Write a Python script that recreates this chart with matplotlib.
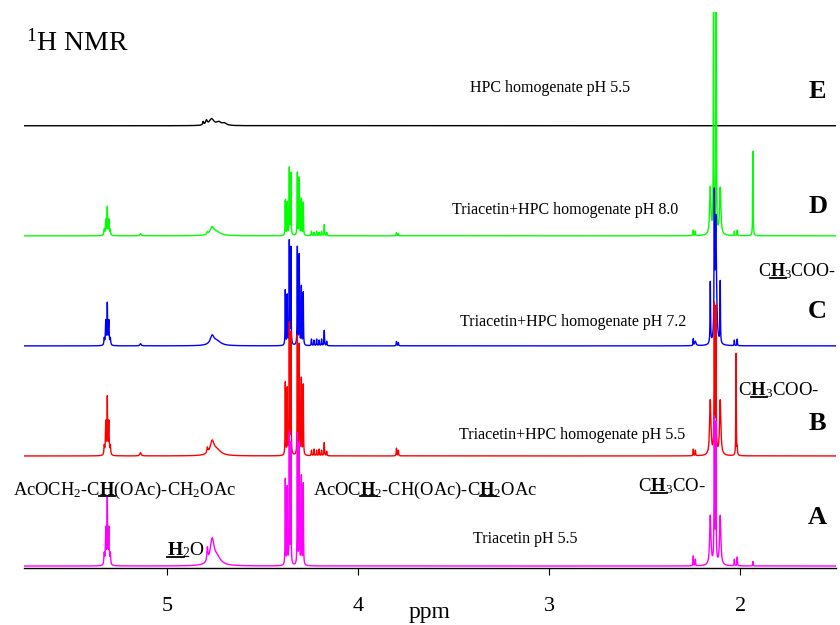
import numpy as np
import matplotlib
matplotlib.use('Agg')
import matplotlib.pyplot as plt
from matplotlib.lines import Line2D

plt.rcParams['font.family'] = ['Liberation Serif', 'DejaVu Serif']
plt.rcParams['mathtext.fontset'] = 'custom'
plt.rcParams['mathtext.rm'] = 'Liberation Serif'
plt.rcParams['mathtext.it'] = 'Liberation Serif:italic'
plt.rcParams['mathtext.bf'] = 'Liberation Serif:bold'

# peak lists: position (ppm), height (1 = spacing between traces), half width (ppm)
# A: Triacetin pH 5.5
a_pos = [5.330, 5.322, 5.314, 5.306, 5.298, 4.790, 4.765, 4.740,
         4.382, 4.372, 4.361, 4.353, 4.319, 4.309, 4.298, 4.288,
         2.246, 2.235, 2.157, 2.136, 2.128, 2.105, 2.031, 2.016, 1.934]
a_hgt = [0.10, 0.33, 0.60, 0.33, 0.10, 0.12, 0.22, 0.07,
         0.78, 0.70, 1.19, 1.10, 1.19, 1.10, 0.80, 0.74,
         0.09, 0.06, 0.45, 1.30, 1.25, 0.45, 0.06, 0.08, 0.04]
a_wid = [0.002, 0.002, 0.0015, 0.002, 0.002, 0.003, 0.012, 0.025,
         0.0012, 0.0012, 0.0012, 0.0012, 0.0012, 0.0012, 0.0012, 0.0012,
         0.0012, 0.0012, 0.004, 0.0015, 0.0015, 0.004, 0.0012, 0.0012, 0.0012]

# B: Triacetin+HPC homogenate pH 5.5
b_pos = [5.330, 5.322, 5.314, 5.306, 5.298, 5.140, 4.790, 4.765, 4.740,
         4.382, 4.372, 4.361, 4.353, 4.319, 4.309, 4.298, 4.288,
         4.245, 4.232, 4.218, 4.205, 4.192, 4.178, 4.165, 3.800, 3.790,
         2.246, 2.235, 2.157, 2.136, 2.128, 2.105, 2.022, 2.016]
b_hgt = [0.08, 0.30, 0.51, 0.30, 0.08, 0.03, 0.05, 0.12, 0.05,
         0.66, 0.60, 1.19, 1.10, 1.08, 1.00, 0.69, 0.64,
         0.05, 0.06, 0.05, 0.06, 0.05, 0.12, 0.04, 0.07, 0.05,
         0.06, 0.05, 0.50, 1.33, 1.30, 0.50, 0.93, 0.06]
b_wid = [0.002, 0.002, 0.0015, 0.002, 0.002, 0.004, 0.003, 0.012, 0.025,
         0.0012, 0.0012, 0.0012, 0.0012, 0.0012, 0.0012, 0.0012, 0.0012,
         0.0015, 0.0015, 0.0015, 0.0015, 0.0015, 0.0015, 0.0015, 0.0015, 0.0015,
         0.0012, 0.0012, 0.004, 0.0015, 0.0015, 0.004, 0.0012, 0.0012]

# C: Triacetin+HPC homogenate pH 7.2
c_pos = [5.330, 5.322, 5.314, 5.306, 5.298, 5.140, 4.765, 4.740,
         4.382, 4.372, 4.361, 4.353, 4.319, 4.309, 4.298, 4.288,
         4.245, 4.232, 4.218, 4.205, 4.192, 4.178, 4.165, 3.800, 3.790,
         2.246, 2.235, 2.157, 2.136, 2.128, 2.105, 2.031, 2.016, 1.934]
c_hgt = [0.06, 0.22, 0.37, 0.22, 0.06, 0.02, 0.08, 0.04,
         0.50, 0.45, 0.94, 0.88, 0.89, 0.82, 0.53, 0.48,
         0.06, 0.05, 0.06, 0.05, 0.06, 0.14, 0.04, 0.04, 0.03,
         0.06, 0.04, 0.56, 1.20, 1.15, 0.56, 0.05, 0.06, 1.00]
c_wid = b_wid[:6] + [0.012, 0.025] + b_wid[9:26] + [0.0012, 0.004, 0.0015, 0.0015, 0.004, 0.0012, 0.0012, 0.0012]

# D: Triacetin+HPC homogenate pH 8.0
d_pos = [5.330, 5.322, 5.314, 5.306, 5.298, 5.140, 4.790, 4.765, 4.740,
         4.382, 4.372, 4.361, 4.353, 4.319, 4.309, 4.298, 4.288,
         4.245, 4.232, 4.218, 4.205, 4.192, 4.178, 4.165, 3.800, 3.790,
         2.246, 2.235, 2.157, 2.140, 2.126, 2.105, 2.031, 2.016, 1.934]
d_hgt = [0.05, 0.14, 0.25, 0.14, 0.05, 0.02, 0.02, 0.07, 0.03,
         0.32, 0.30, 0.61, 0.56, 0.57, 0.52, 0.33, 0.30,
         0.04, 0.03, 0.04, 0.03, 0.04, 0.10, 0.03, 0.03, 0.02,
         0.05, 0.04, 0.43, 2.60, 2.60, 0.43, 0.04, 0.05, 0.77]
d_wid = b_wid[:26] + [0.0012, 0.0012, 0.004, 0.0012, 0.0012, 0.004, 0.0012, 0.0012, 0.0012]

# E: HPC homogenate pH 5.5
e_pos = [4.812, 4.795, 4.768, 4.730, 4.700]
e_hgt = [0.03, 0.04, 0.06, 0.03, 0.02]
e_wid = [0.003, 0.005, 0.014, 0.015, 0.012]

names = ['Triacetin pH 5.5', 'Triacetin+HPC homogenate pH 5.5',
         'Triacetin+HPC homogenate pH 7.2', 'Triacetin+HPC homogenate pH 8.0',
         'HPC homogenate pH 5.5']
letters = ['A', 'B', 'C', 'D', 'E']
colors = ['#ff00ff', '#ff0000', '#0000ff', '#00ff00', '#000000']
offsets = [0, 1, 2, 3, 4]
peaks = [(a_pos, a_hgt, a_wid), (b_pos, b_hgt, b_wid), (c_pos, c_hgt, c_wid),
         (d_pos, d_hgt, d_wid), (e_pos, e_hgt, e_wid)]


def spectrum(ppm, pos, hgt, wid):
    y = np.zeros_like(ppm)
    for p, h, w in zip(pos, hgt, wid):
        y += h * w**2 / ((ppm - p)**2 + w**2)
    return y


ppm = np.linspace(1.5, 5.75, 30000)

fig = plt.figure(figsize=(8.4, 6.25), dpi=100)
ax = fig.add_axes([0.0286, 0.0912, 0.9664, 0.889])

# E drawn first so the lower traces sit on top
for i in range(4, -1, -1):
    pos, hgt, wid = peaks[i]
    ax.plot(ppm, spectrum(ppm, pos, hgt, wid) + offsets[i], color=colors[i], lw=1.0)

ax.set_xlim(5.75, 1.5)
ax.set_ylim(-0.018, 5.03)
for s in ['left', 'right', 'top']:
    ax.spines[s].set_visible(False)
ax.spines['bottom'].set_linewidth(1.0)
ax.set_yticks([])
ax.set_xticks([5, 4, 3, 2])
ax.tick_params(axis='x', direction='out', length=5, labelsize=16, pad=16)
ax.set_xlabel('ppm', fontsize=17, labelpad=-10)

# trace names and letters
name_x = [3.126, 2.88, 2.874, 2.916, 2.995]
name_y = [0.21, 1.15, 2.18, 3.20, 4.31]
letter_y = [0.38, 1.24, 2.25, 3.21, 4.25]
for i in range(5):
    ax.text(name_x[i], name_y[i], names[i], fontsize=11.5, ha='center', va='baseline')
    ax.text(1.595, letter_y[i], letters[i], fontsize=19, fontweight='bold',
            ha='center', va='baseline')

ax.text(5.738, 4.68, r'$^1$H NMR', fontsize=20, ha='left', va='baseline')

HB = r'$\mathbf{H}$'
labels = [
    (5.81, 0.65, 13.3, ['AcOCH$_2$-C', HB, '(OAc)-CH$_2$OAc']),
    (4.236, 0.65, 13.3, ['AcOC', HB, '$_2$-CH(OAc)-C', HB, '$_2$OAc']),
    (2.534, 0.68, 13.5, ['C', HB, '$_3$CO-']),
    (5.0, 0.10, 14, [HB, '$_2$O']),
    (2.01, 1.55, 13.5, ['C', HB, '$_3$COO-']),
    (1.905, 2.63, 13, ['C', HB, '$_3$COO-']),
]

fig.canvas.draw()
renderer = fig.canvas.get_renderer()


def text_width(s, fs):
    if s == '':
        return 0.0
    t = ax.text(0, 0, s, fontsize=fs)
    w = t.get_window_extent(renderer).width
    t.remove()
    return w


# bold H with an underline, as in the original annotations
for x, y, fs, parts in labels:
    ax.text(x, y, ''.join(parts), fontsize=fs, ha='left', va='baseline')
    x_disp, y_disp = ax.transData.transform((x, y))
    for k, p in enumerate(parts):
        if p != HB:
            continue
        x1 = x_disp + text_width(''.join(parts[:k + 1]), fs)
        x0 = x1 - text_width(HB, fs)
        yl = y_disp - 0.13 * fs
        (fx0, fy), (fx1, _) = fig.transFigure.inverted().transform([(x0, yl), (x1, yl)])
        fig.add_artist(Line2D([fx0, fx1], [fy, fy], color='black', lw=1.3))

fig.savefig('out.png', dpi=100)
